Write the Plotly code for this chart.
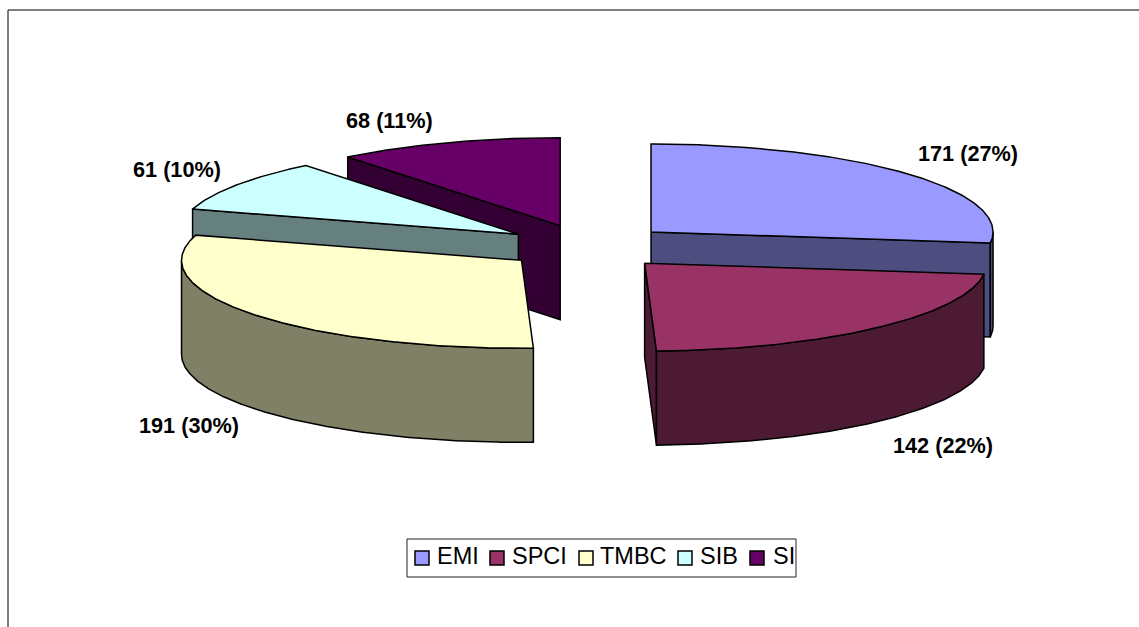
import numpy as np
import plotly.graph_objects as go

# Journal counts per publisher
categories = ["EMI", "SPCI", "TMBC", "SIB", "SI"]
values = [171, 142, 191, 61, 68]
top_colors = ["#9999FF", "#993366", "#FFFFCC", "#CCFFFF", "#660066"]
side_colors = ["#4D4D80", "#4D1A33", "#808066", "#668080", "#330033"]

# Projection of the tilted, exploded pie onto the pixel-sized axes
CX, CY = 588, 246.7
RX_RIGHT, RX_LEFT, RY = 342, 340, 88
EX, EY = 84, 22.3
DEPTH = 94
FONT = "Liberation Sans, Arial, sans-serif"
EDGE = dict(color="#000000", width=1.5)

WIDTH, HEIGHT = 1139, 627


def project(ox, oy, deg, drop=0.0):
    t = np.radians(deg)
    s = np.sin(t)
    return ox + np.where(s > 0, RX_RIGHT, RX_LEFT) * s, oy - RY * np.cos(t) + drop


def rim(ox, oy, a, b, drop=0.0):
    return project(ox, oy, np.linspace(a, b, max(3, int(abs(b - a) * 2))), drop)


def poly(xs, ys, color, name):
    return go.Scatter(
        x=np.append(xs, xs[0]), y=np.append(ys, ys[0]), mode="lines",
        fill="toself", fillcolor=color, line=EDGE, name=name,
        hoverinfo="name", showlegend=False,
    )


total = sum(values)
edges = np.concatenate([[0], np.cumsum(values) / total * 360])
slices = []
for i, name in enumerate(categories):
    a, b = edges[i], edges[i + 1]
    mid = np.radians((a + b) / 2)
    slices.append((CY - EY * np.cos(mid), CX + EX * np.sin(mid), i, a, b))

fig = go.Figure()

# Painter's order: slices further back go down first
for oy, ox, i, a, b in sorted(slices):
    name = categories[i]
    # Radial cut faces turned towards the viewer
    for ang, interior in ((a, 1), (b, -1)):
        if np.sin(np.radians(ang)) * interior < -1e-6:
            ex, ey = project(ox, oy, ang)
            fig.add_trace(poly(
                np.array([ox, ex, ex, ox]),
                np.array([oy, ey, ey + DEPTH, oy + DEPTH]),
                side_colors[i], name))
    # Outer wall on the near half of the rim
    lo, hi = max(a, 90), min(b, 270)
    if hi > lo:
        xu, yu = rim(ox, oy, lo, hi)
        xd, yd = rim(ox, oy, lo, hi, DEPTH)
        fig.add_trace(poly(np.r_[xu, xd[::-1]], np.r_[yu, yd[::-1]], side_colors[i], name))
    # Top surface
    xt, yt = rim(ox, oy, a, b)
    fig.add_trace(poly(np.r_[ox, xt], np.r_[oy, yt], top_colors[i], name))

# Value labels beside each slice
label_x = [968, 943, 188.5, 177, 389]
label_y = [153, 445, 425, 169, 120]
annotations = [
    dict(x=x, y=y, text=f"<b>{v} ({round(100 * v / total)}%)</b>", showarrow=False,
         xanchor="center", yanchor="middle", font=dict(family=FONT, size=21.7, color="#000000"))
    for x, y, v in zip(label_x, label_y, values)
]

# Legend row: swatches and names inside a bordered box
swatch_x = [422, 497, 586, 685, 757]
text_x = [437, 512, 600, 700, 773]
SWATCH_Y, TEXT_Y = 558, 556
fig.add_trace(go.Scatter(
    x=swatch_x, y=[SWATCH_Y] * len(swatch_x), mode="markers",
    marker=dict(symbol="square", size=14, color=top_colors, line=dict(color="#000000", width=1.5)),
    hoverinfo="skip", showlegend=False,
))
annotations += [
    dict(x=x, y=TEXT_Y, text=name, showarrow=False, xanchor="left", yanchor="middle",
         xshift=-2, font=dict(family=FONT, size=23.5, color="#000000"))
    for x, name in zip(text_x, categories)
]

shapes = [
    dict(type="rect", x0=407, x1=796, y0=539, y1=577, line=dict(color="#222222", width=1)),
    dict(type="line", x0=8, x1=8, y0=10, y1=HEIGHT, line=dict(color="#000000", width=1)),
    dict(type="line", x0=8, x1=WIDTH, y0=10, y1=10, line=dict(color="#000000", width=1)),
]

fig.update_layout(
    width=WIDTH, height=HEIGHT, margin=dict(l=0, r=0, t=0, b=0),
    paper_bgcolor="#FFFFFF", plot_bgcolor="#FFFFFF",
    xaxis=dict(range=[0, WIDTH], visible=False, fixedrange=True),
    yaxis=dict(range=[HEIGHT, 0], visible=False, fixedrange=True),
    annotations=annotations, shapes=shapes, showlegend=False,
)

fig.write_html("out.html", config={"displayModeBar": False})
